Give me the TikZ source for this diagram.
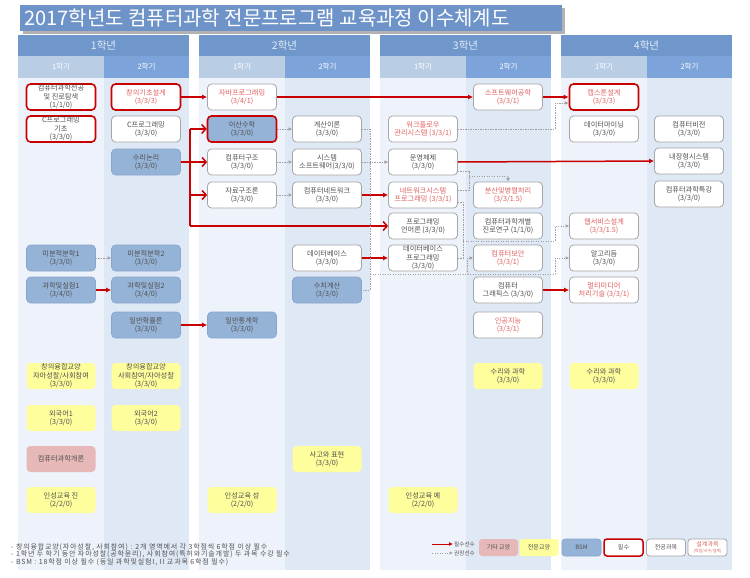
\documentclass[tikz,border=0pt]{standalone}
\usepackage{fontspec}
\setmainfont{Noto Sans CJK KR}
\usetikzlibrary{arrows.meta}
\definecolor{yearhdr}{HTML}{6F97CB}
\definecolor{semonehdr}{HTML}{B9CDE5}
\definecolor{semtwohdr}{HTML}{7DA4DA}
\definecolor{bodyone}{HTML}{EEF2FA}
\definecolor{bodytwo}{HTML}{DFE8F5}
\definecolor{titlefill}{HTML}{6D93C8}
\definecolor{bsmfill}{HTML}{95B3D7}
\definecolor{bsmborder}{HTML}{86A5CF}
\definecolor{genfill}{HTML}{FEFE9C}
\definecolor{etcfill}{HTML}{E6B9B8}
\definecolor{txtgray}{HTML}{505050}
\definecolor{redtxt}{HTML}{E06060}
\definecolor{redline}{HTML}{C80000}
\definecolor{bordergray}{HTML}{A6A6A6}
\definecolor{dotgray}{HTML}{A0A0A0}
\definecolor{hdrtxt}{HTML}{E4ECF7}
\tikzset{
  base/.style={rounded corners=4pt, minimum width=69pt, minimum height=26pt, inner sep=0.5pt, align=center, font=\fontsize{7.2}{8.4}\selectfont, text=txtgray},
  major/.style={base, draw=bordergray, line width=0.8pt, fill=white},
  req/.style={base, draw=redline, line width=1.6pt, fill=white},
  bsm/.style={base, fill=bsmfill, draw=bsmborder, line width=0.6pt},
  gen/.style={base, fill=genfill},
  etc/.style={base, fill=etcfill},
  rt/.style={text=redtxt},
  redarr/.style={draw=redline, line width=1.5pt, -{Latex[length=5pt,width=5pt]}},
  redbig/.style={draw=redline, line width=1.5pt, -{Straight Barb[length=4pt,width=9pt]}},
  redline/.style={draw=redline, line width=1.5pt},
  dotline/.style={draw=dotgray, line width=0.7pt, dash pattern=on 1.3pt off 1.2pt},
  dotarr/.style={dotline, -{Latex[length=3.5pt,width=3.5pt]}},
  yearlbl/.style={font=\fontsize{10.5}{11}\selectfont, text=hdrtxt},
  semlbl/.style={font=\fontsize{7.5}{8}\selectfont, text=white},
  legbox/.style={rounded corners=3pt, minimum width=39pt, minimum height=17pt, inner sep=0pt, align=center, font=\fontsize{6}{7}\selectfont, text=txtgray},
  legtxt/.style={font=\fontsize{5.6}{6}\selectfont, text=txtgray, anchor=west, inner sep=0pt},
  note/.style={font=\fontsize{7}{7.4}\selectfont\addfontfeatures{LetterSpace=12}, text=txtgray, anchor=west, align=left, inner sep=0pt}
}
\begin{document}
\begin{tikzpicture}[x=1pt,y=-1pt]
\useasboundingbox (0,0) rectangle (750,578);
\fill[white] (0,0) rectangle (750,578);
% title
\fill[black!30] (23,8) rectangle (565,34);
\fill[titlefill] (20,5) rectangle (562,31);
\node[anchor=west, text=white, font=\fontsize{20}{22}\selectfont, inner sep=0pt] (title) at (24,17.5) {2017학년도 컴퓨터과학 전문프로그램 교육과정 이수체계도};
% columns
\foreach \i/\yl in {0/1학년,1/2학년,2/3학년,3/4학년}{
  \pgfmathsetmacro\xo{18+181*\i}
  \fill[bodyone] (\xo,78) rectangle (\xo+86,570);
  \fill[bodytwo] (\xo+86,78) rectangle (\xo+171,570);
  \fill[yearhdr] (\xo,35) rectangle (\xo+171,56);
  \fill[semonehdr] (\xo,56) rectangle (\xo+86,78);
  \fill[semtwohdr] (\xo+86,56) rectangle (\xo+171,78);
  \node[yearlbl] (yr\i) at (\xo+85.5,46) {\yl};
  \node[semlbl] (sa\i) at (\xo+43,67) {1학기};
  \node[semlbl] (sb\i) at (\xo+128.5,67) {2학기};
}
% year 1 sem 1
\node[req] (a1) at (61,97) {컴퓨터과학전공\\및 진로탐색\\(1/1/0)};
\node[req] (a2) at (61,129) {C프로그래밍\\기초\\(3/3/0)};
\node[bsm] (a3) at (61,258) {미분적분학1\\(3/3/0)};
\node[bsm] (a4) at (61,290) {과학및실험1\\(3/4/0)};
\node[gen] (a5) at (61,376) {창의융합교양\\자아성찰/사회참여\\(3/3/0)};
\node[gen] (a6) at (61,418) {외국어1\\(3/3/0)};
\node[etc] (a7) at (61,459) {컴퓨터과학개론};
\node[gen] (a8) at (61,500) {인성교육 진\\(2/2/0)};
% year 1 sem 2
\node[req,rt] (b1) at (146,97) {창의기초설계\\(3/3/3)};
\node[major] (b2) at (146,129) {C프로그래밍\\(3/3/0)};
\node[bsm] (b3) at (146,162) {수리논리\\(3/3/0)};
\node[bsm] (b4) at (146,258) {미분적분학2\\(3/3/0)};
\node[bsm] (b5) at (146,290) {과학및실험2\\(3/4/0)};
\node[bsm] (b6) at (146,325) {일반확률론\\(3/3/0)};
\node[gen] (b7) at (146,376) {창의융합교양\\사회참여/자아성찰\\(3/3/0)};
\node[gen] (b8) at (146,418) {외국어2\\(3/3/0)};
% year 2 sem 1
\node[major,rt] (c1) at (242,97) {자바프로그래밍\\(3/4/1)};
\node[bsm,draw=redline,line width=1.6pt] (c2) at (242,129) {이산수학\\(3/3/0)};
\node[major] (c3) at (242,162) {컴퓨터구조\\(3/3/0)};
\node[major] (c4) at (242,195) {자료구조론\\(3/3/0)};
\node[bsm] (c5) at (242,325) {일반통계학\\(3/3/0)};
\node[gen] (c6) at (242,500) {인성교육 성\\(2/2/0)};
% year 2 sem 2
\node[major] (d1) at (327,129) {계산이론\\(3/3/0)};
\node[major] (d2) at (327,162) {시스템\\소프트웨어(3/3/0)};
\node[major] (d3) at (327,195) {컴퓨터네트워크\\(3/3/0)};
\node[major] (d4) at (327,258) {데이터베이스\\(3/3/0)};
\node[bsm] (d5) at (327,290) {수치계산\\(3/3/0)};
\node[gen] (d6) at (327,459) {사고와 표현\\(3/3/0)};
% year 3 sem 1
\node[major,rt] (e1) at (423,129) {워크플로우\\관리시스템 (3/3/1)};
\node[major] (e2) at (423,162) {운영체제\\(3/3/0)};
\node[major,rt] (e3) at (423,195) {네트워크시스템\\프로그래밍 (3/3/1)};
\node[major] (e4) at (423,226) {프로그래밍\\언어론 (3/3/0)};
\node[major] (e5) at (423,258) {데이터베이스\\프로그래밍\\(3/3/0)};
\node[gen] (e6) at (423,500) {인성교육 예\\(2/2/0)};
% year 3 sem 2
\node[major,rt] (f1) at (508,97) {소프트웨어공학\\(3/3/1)};
\node[major,rt] (f2) at (508,195) {분산및병렬처리\\(3/3/1.5)};
\node[major] (f3) at (508,226) {컴퓨터과학개별\\진로연구 (1/1/0)};
\node[major,rt] (f4) at (508,258) {컴퓨터보안\\(3/3/1)};
\node[major] (f5) at (508,290) {컴퓨터\\그래픽스 (3/3/0)};
\node[major,rt] (f6) at (508,325) {인공지능\\(3/3/1)};
\node[gen] (f7) at (508,376) {수리와 과학\\(3/3/0)};
% year 4 sem 1
\node[req,rt] (g1) at (604,97) {캡스톤설계\\(3/3/3)};
\node[major] (g2) at (604,129) {데이터마이닝\\(3/3/0)};
\node[major,rt] (g3) at (604,226) {웹서비스설계\\(3/3/1.5)};
\node[major] (g4) at (604,258) {알고리듬\\(3/3/0)};
\node[major,rt] (g5) at (604,290) {멀티미디어\\처리기술 (3/3/1)};
\node[gen] (g6) at (604,376) {수리와 과학\\(3/3/0)};
% year 4 sem 2
\node[major] (h1) at (689,129) {컴퓨터비전\\(3/3/0)};
\node[major] (h2) at (689,161) {내장형시스템\\(3/3/0)};
\node[major] (h3) at (689,194) {컴퓨터과학특강\\(3/3/0)};
% junction coordinates
\coordinate (rj1) at (190,129);
\coordinate (rj2) at (190,162);
\coordinate (rj3) at (190,195);
\coordinate (rj4) at (190,226);
\coordinate (ka) at (370,129);
\coordinate (kb) at (370,290);
\coordinate (kc) at (370,274);
\coordinate (kd) at (467,274);
\coordinate (ke) at (555,274);
\coordinate (wa) at (555,129);
\coordinate (wb) at (555,103);
\coordinate (na) at (463,202);
\coordinate (nb) at (463,258);
\coordinate (nc) at (463,241);
\coordinate (nd) at (555,241);
\coordinate (oa) at (469,171);
\coordinate (ob) at (469,190);
\coordinate (oc) at (469,176);
\coordinate (od) at (508,176);
% red connectors
\draw[redarr] (b1.east) -- (c1.west);
\draw[redarr] (c1.east) -- (f1.west);
\draw[redarr] (f1.east) -- (g1.west);
\draw[redline] (rj1) -- (rj4);
\draw[redbig] (b3.east) -- (c3.west);
\draw[redbig] (rj1) -- (c2.west);
\draw[redbig] (rj3) -- (c4.west);
\draw[redbig] (rj4) -- (e4.west);
\draw[redarr] (a4.east) -- (b5.west);
\draw[redarr] (b6.east) -- (c5.west);
\draw[redarr] (d3.east) -- (e3.west);
\draw[redarr] (d4.east) -- (e5.west);
\draw[redarr] (e2.east) -- (h2.west);
\draw[redarr] (f5.east) -- (g5.west);
% dotted connectors
\draw[dotarr] (a3.east) -- (b4.west);
\draw[dotarr] (c2.east) -- (d1.west);
\draw[dotarr] (c3.east) -- (d2.west);
\draw[dotarr] (c4.east) -- (d3.west);
\draw[dotarr] (d2.east) -- (e2.west);
\draw[dotline] (d1.east) -- (ka) -- (kb) -- (d5.east);
\draw[dotline] (kc) -- (ke);
\draw[dotarr] (kd) -- (467,258) -- (f4.west);
\draw[dotarr] (ke) -- (555,258) -- (g4.west);
\draw[dotarr] (e1.east) -- (wa) -- (wb) -- (g1.west |- wb);
\draw[dotline] (e3.east |- na) -- (na) -- (nb) -- (e5.east |- nb);
\draw[dotarr] (nc) -- (nd) -- (555,226) -- (g3.west);
\draw[dotline] (e2.east |- oa) -- (oa) -- (ob) -- (e3.east |- ob);
\draw[dotarr] (oc) -- (od) -- (f2.north);
% notes
\node[note] (nt1) at (11,547) {- 창의융합교양(자아성찰, 사회참여) : 2개 영역에서 각 3학점씩 6학점 이상 필수};
\node[note] (nt2) at (11,554.5) {- 1학년 두 학기 동안 자아성찰(공학윤리), 사회참여(특허와기술개발) 두 과목 수강 필수};
\node[note] (nt3) at (11,562) {- BSM : 18학점 이상 필수 (동일 과학및실험I, II 교과목 6학점 필수)};
% legend
\coordinate (la1) at (432,544);
\coordinate (la2) at (453,544);
\coordinate (lb1) at (432,553);
\coordinate (lb2) at (453,553);
\draw[draw=redline, line width=1pt, -{Latex[length=4pt,width=4pt]}] (la1) -- (la2);
\draw[draw=dotgray, line width=0.7pt, dash pattern=on 1.3pt off 1.2pt, -{Latex[length=3.5pt,width=3.5pt]}] (lb1) -- (lb2);
\node[legtxt] (lt1) at (454,544) {필수선수};
\node[legtxt] (lt2) at (454,553) {권장선수};
\node[legbox, fill=etcfill] (l1) at (498.5,547.5) {기타 교양};
\node[legbox, fill=genfill] (l2) at (539,547.5) {전문교양};
\node[legbox, fill=bsmfill, draw=bsmborder, line width=0.6pt] (l3) at (581.5,547.5) {BSM};
\node[legbox, fill=white, draw=redline, line width=1.5pt] (l4) at (623.5,547.5) {필수};
\node[legbox, fill=white, draw=bordergray, line width=0.8pt] (l5) at (666,547.5) {전공과목};
\node[legbox, fill=white, draw=bordergray, line width=0.8pt, text=redtxt] (l6) at (707.5,547.5) {설계과목\\[-1.5pt]{\fontsize{4}{4.5}\selectfont (학점/시수/설계)}};
\end{tikzpicture}
\end{document}
